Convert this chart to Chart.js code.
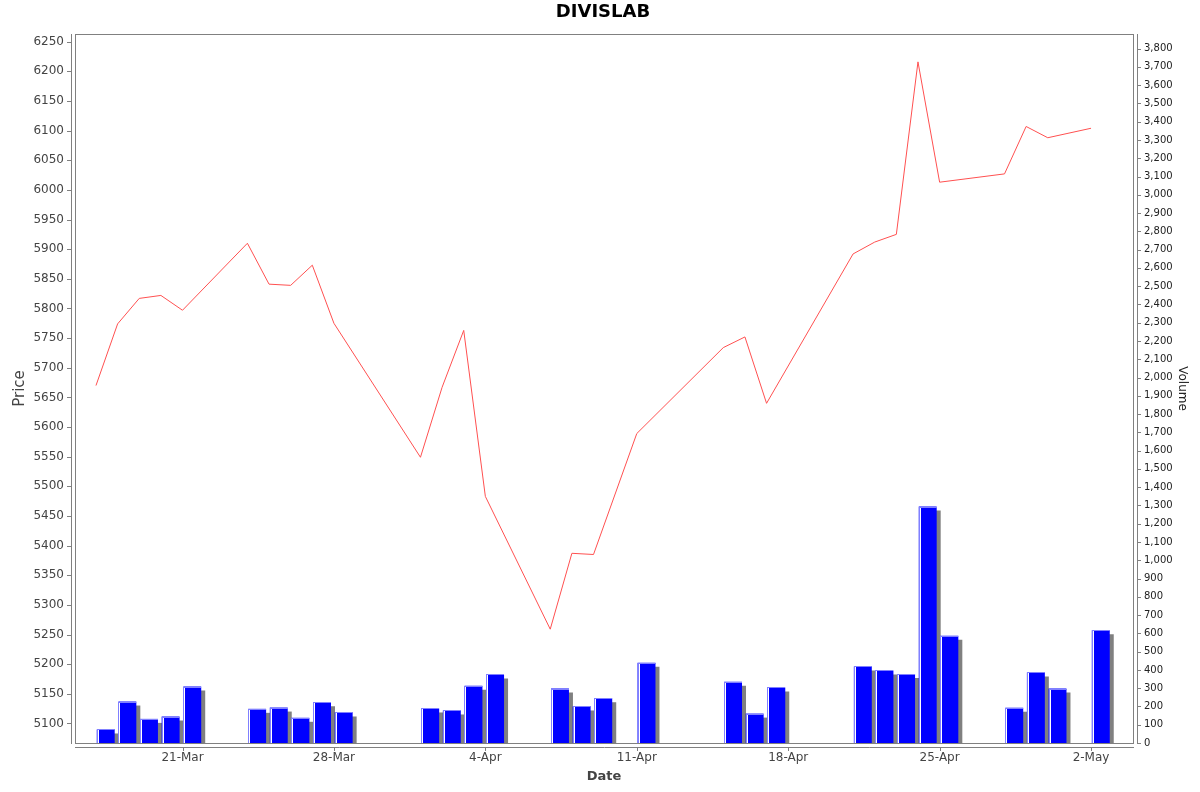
<!DOCTYPE html>
<html>
<head>
<meta charset="utf-8">
<script src="https://cdn.jsdelivr.net/npm/chart.js@4"></script>
<style>
  html, body { margin: 0; padding: 0; background: #fff; }
</style>
</head>
<body>
<canvas id="chart" width="1200" height="792"></canvas>
<script>
const dates = [
  '2014-03-17', '2014-03-18', '2014-03-19', '2014-03-20', '2014-03-21',
  '2014-03-24', '2014-03-25', '2014-03-26', '2014-03-27', '2014-03-28',
  '2014-04-01', '2014-04-02', '2014-04-03', '2014-04-04',
  '2014-04-07', '2014-04-08', '2014-04-09', '2014-04-11',
  '2014-04-15', '2014-04-16', '2014-04-17',
  '2014-04-21', '2014-04-22', '2014-04-23', '2014-04-24', '2014-04-25',
  '2014-04-28', '2014-04-29', '2014-04-30', '2014-05-02'
];

const price = [
  5670, 5774, 5817, 5822, 5797,
  5910, 5841, 5839, 5873, 5775,
  5549, 5667, 5763, 5483,
  5259, 5387, 5385, 5589,
  5734, 5752, 5640,
  5892, 5912, 5925, 6216, 6013,
  6027, 6107, 6088, 6104
];

const volume = [
  74, 227, 132, 145, 309,
  187, 194, 138, 223, 167,
  189, 178, 313, 375,
  298, 200, 245, 439,
  335, 161, 304,
  419, 397, 377, 1294, 587,
  193, 386, 298, 617
];

const tickDates = ['2014-03-21', '2014-03-28', '2014-04-04', '2014-04-11', '2014-04-18', '2014-04-25', '2014-05-02'];
const tickLabels = ['21-Mar', '28-Mar', '4-Apr', '11-Apr', '18-Apr', '25-Apr', '2-May'];

const FONT = 'DejaVu Sans';

function toDay(s) {
  const p = s.split('-').map(Number);
  return Date.UTC(p[0], p[1] - 1, p[2]) / 86400000;
}

const days = dates.map(toDay);
const tickDays = tickDates.map(toDay);

// bars sit inside their trading day, the price line at the start of it
const lineData = days.map((d, i) => ({ x: d, y: price[i] }));
const barData = days.map((d, i) => ({ x: d + 0.45, y: volume[i] }));

// gray drop shadow + light edge on the volume bars
const barShadow = {
  id: 'barShadow',
  beforeDatasetDraw(chart, args) {
    if (args.index !== 1) return;
    const ctx = chart.ctx;
    ctx.save();
    ctx.shadowColor = '#808080';
    ctx.shadowOffsetX = 4;
    ctx.shadowOffsetY = 4;
    ctx.shadowBlur = 0;
  },
  afterDatasetDraw(chart, args) {
    if (args.index !== 1) return;
    const ctx = chart.ctx;
    ctx.restore();
    ctx.save();
    args.meta.data.forEach(bar => {
      const p = bar.getProps(['x', 'y', 'width', 'base'], true);
      const left = Math.round(p.x - p.width / 2);
      const top = Math.round(p.y);
      const w = Math.round(p.width);
      const h = Math.round(p.base) - top;
      ctx.fillStyle = '#8080ff';
      ctx.fillRect(left, top, 1, h);
      ctx.fillRect(left, top, w, 1);
      ctx.fillStyle = '#ffffff';
      ctx.fillRect(left + 1, top + 1, 1, h - 1);
    });
    ctx.restore();
  }
};

const frame = {
  id: 'frame',
  afterDraw(chart) {
    const { ctx, chartArea: a, scales } = chart;
    ctx.save();
    ctx.strokeStyle = '#808080';
    ctx.lineWidth = 1;
    ctx.strokeRect(a.left + 0.5, a.top + 0.5, a.right - a.left, a.bottom - a.top);

    ctx.beginPath();
    // axis lines
    ctx.moveTo(a.left - 3.5, a.top); ctx.lineTo(a.left - 3.5, a.bottom + 1);
    ctx.moveTo(a.right + 4.5, a.top); ctx.lineTo(a.right + 4.5, a.bottom + 1);
    ctx.moveTo(a.left, a.bottom + 4.5); ctx.lineTo(a.right + 1, a.bottom + 4.5);
    // tick marks
    scales.y.ticks.forEach(t => {
      const y = Math.round(scales.y.getPixelForValue(t.value)) + 0.5;
      ctx.moveTo(a.left - 8, y); ctx.lineTo(a.left - 4, y);
    });
    scales.y1.ticks.forEach(t => {
      const y = Math.round(scales.y1.getPixelForValue(t.value)) + 0.5;
      ctx.moveTo(a.right + 5, y); ctx.lineTo(a.right + 8, y);
    });
    scales.x.ticks.forEach(t => {
      const x = Math.round(scales.x.getPixelForValue(t.value)) + 0.5;
      ctx.moveTo(x, a.bottom + 5); ctx.lineTo(x, a.bottom + 8);
    });
    ctx.stroke();

    ctx.fillStyle = '#000';
    ctx.font = 'bold 18px "' + FONT + '"';
    ctx.textAlign = 'center';
    ctx.textBaseline = 'middle';
    ctx.fillText('DIVISLAB', 603, 12);
    ctx.restore();
  }
};

const data = {
  datasets: [{
    type: 'line',
    label: 'Price',
    data: lineData,
    yAxisID: 'y',
    borderColor: '#ff5050',
    borderWidth: 1,
    pointRadius: 0,
    tension: 0,
    fill: false,
    order: 1
  }, {
    type: 'bar',
    label: 'Volume',
    data: barData,
    yAxisID: 'y1',
    backgroundColor: '#0000ff',
    borderWidth: 0,
    barPercentage: 0.83,
    categoryPercentage: 1,
    clip: 0,
    order: 2
  }]
};

const options = {
  responsive: false,
  animation: false,
  layout: { padding: { top: 34, left: 0, right: 0, bottom: 0 } },
  plugins: {
    legend: { display: false },
    title: { display: false },
    tooltip: { enabled: false }
  },
  scales: {
    x: {
      type: 'linear',
      offset: false,
      min: toDay(dates[0]) - 0.97,
      max: toDay(dates[dates.length - 1]) + 1.94,
      grid: { display: false, drawTicks: false },
      border: { display: false },
      afterBuildTicks: s => { s.ticks = tickDays.map(v => ({ value: v })); },
      afterFit: s => { s.height = 49; },
      ticks: {
        autoSkip: false,
        maxRotation: 0,
        padding: 8,
        color: '#444',
        font: { family: FONT, size: 12 },
        callback: v => tickLabels[tickDays.indexOf(v)]
      },
      title: {
        display: true,
        text: 'Date',
        color: '#444',
        font: { family: FONT, size: 13, weight: 'bold' },
        padding: { top: 0, bottom: 8 }
      }
    },
    y: {
      position: 'left',
      min: 5067,
      max: 6263,
      grid: { display: false, drawTicks: false },
      border: { display: false },
      afterFit: s => { s.width = 75; },
      ticks: {
        stepSize: 50,
        includeBounds: false,
        padding: 11,
        color: '#444',
        font: { family: FONT, size: 12 },
        callback: v => String(v)
      },
      title: {
        display: true,
        text: 'Price',
        color: '#444',
        font: { family: FONT, size: 15 },
        padding: { top: 11, bottom: 0 }
      }
    },
    y1: {
      position: 'right',
      min: 0,
      max: 3880,
      grid: { display: false, drawTicks: false },
      border: { display: false },
      afterFit: s => { s.width = 67; },
      ticks: {
        stepSize: 100,
        includeBounds: false,
        padding: 11,
        color: '#222',
        font: { family: FONT, size: 10 },
        callback: v => v.toLocaleString('en-US')
      },
      title: {
        display: true,
        text: 'Volume',
        color: '#222',
        font: { family: FONT, size: 12 },
        padding: { top: 11, bottom: 0 }
      }
    }
  }
};

const config = {
  type: 'line',
  data: data,
  options: options,
  plugins: [barShadow, frame]
};

const ctx = document.getElementById('chart');
const myChart = new Chart(ctx, config);
</script>
</body>
</html>
